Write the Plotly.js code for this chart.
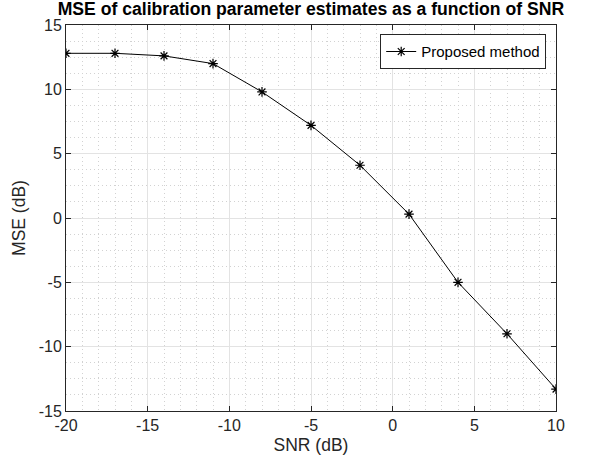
<!DOCTYPE html>
<html>
<head>
<meta charset="utf-8">
<script src="https://cdn.plot.ly/plotly-3.0.1.min.js"></script>
<style>html,body{margin:0;padding:0;background:#fff;}#chart{width:590px;height:459px;}</style>
</head>
<body>
<div id="chart"></div>
<script>
const snr = [-20, -17, -14, -11, -8, -5, -2, 1, 4, 7, 10];
const mse = [12.8, 12.8, 12.6, 12.0, 9.8, 7.2, 4.1, 0.3, -5.0, -9.0, -13.3];
const seriesName = 'Proposed method';
const xTicks = [-20, -15, -10, -5, 0, 5, 10];
const yTicks = [-15, -10, -5, 0, 5, 10, 15];

const fam = 'Liberation Sans, Arial, Helvetica, sans-serif';
const font = {family: fam, color: '#262626', size: 16};

const trace = {
  x: snr, y: mse, name: seriesName, type: 'scatter', mode: 'lines+markers',
  line: {color: '#000000', width: 1},
  marker: {symbol: 'asterisk-open', size: 8, color: '#000000', line: {color: '#000000', width: 1.2}},
  showlegend: true
};

const axisCommon = {
  showline: true, linecolor: '#262626', linewidth: 1, mirror: 'ticks',
  ticks: 'inside', ticklen: 5, tickcolor: '#262626', tickwidth: 1,
  showgrid: true, gridcolor: '#e3e3e3', gridwidth: 1, zeroline: false,
  tickfont: font
};

const minorCommon = {showgrid: true, gridcolor: '#d2d2d2', griddash: '1px,3px', gridwidth: 1, ticks: ''};

const layout = {
  width: 590, height: 459,
  margin: {l: 66, r: 34, t: 25, b: 48},
  paper_bgcolor: '#ffffff', plot_bgcolor: '#ffffff',
  font: font,
  title: {text: '<b>MSE of calibration parameter estimates as a function of SNR</b>', font: {family: fam, size: 17.6, color: '#000000'}, x: 0.527, xanchor: 'center', y: 0.981, yanchor: 'middle'},
  xaxis: Object.assign({}, axisCommon, {
    range: [-20, 10], tickvals: xTicks, ticktext: xTicks.map(String),
    title: {text: 'SNR (dB)', font: {family: fam, size: 17.5, color: '#262626'}, standoff: 5},
    minor: Object.assign({dtick: 1, tick0: 0}, minorCommon)
  }),
  yaxis: Object.assign({}, axisCommon, {
    range: [-15, 15], tickvals: yTicks, ticktext: yTicks.map(String),
    title: {text: 'MSE (dB)', font: {family: fam, size: 17.5, color: '#262626'}, standoff: 8},
    minor: Object.assign({dtick: 1.25, tick0: 0}, minorCommon)
  }),
  legend: {
    x: 0.98, xanchor: 'right', y: 0.976, yanchor: 'top',
    bgcolor: '#ffffff', bordercolor: '#262626', borderwidth: 1,
    font: {family: fam, size: 15, color: '#000000'},
    tracegroupgap: 0, itemwidth: 30
  }
};

Plotly.newPlot('chart', [trace], layout, {displayModeBar: false, staticPlot: true});
</script>
</body>
</html>
